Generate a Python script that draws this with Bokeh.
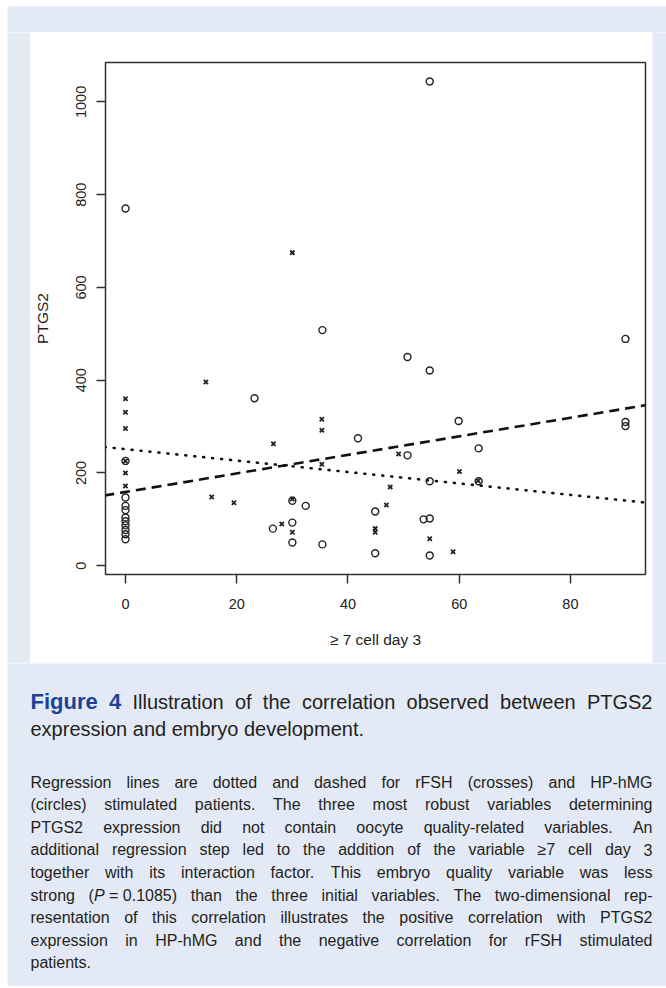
from bokeh.plotting import figure
from bokeh.layouts import column, row
from bokeh.models import Range1d, FixedTicker, Slope, ColumnDataSource
from bokeh.core.properties import value, field
from bokeh.embed import file_html
from bokeh.resources import INLINE

# ---------------- data ----------------
# HP-hMG stimulated patients (circles)
hmg_x = [0, 0, 0, 0, 0, 0, 0, 0, 0, 0, 0,
         23.2, 26.5, 30, 30, 30, 32.4, 35.4, 35.4, 41.8, 44.9, 44.9,
         50.7, 50.7, 53.6, 54.7, 54.7, 54.7, 54.7, 54.7, 59.9, 63.5, 63.5,
         89.9, 89.9, 89.9]
hmg_y = [770, 226, 147, 129, 120, 104, 96, 87, 77, 68, 57,
         361, 80, 140, 93, 50, 129, 508, 46, 275, 117, 27,
         450, 238, 100, 1044, 421, 182, 102, 22, 312, 253, 182,
         489, 310, 301]
# rFSH stimulated patients (crosses)
fsh_x = [0, 0, 0, 0, 0, 0, 14.45, 15.5, 19.5, 26.6, 28.1, 30, 30, 30,
         35.3, 35.3, 35.3, 44.9, 44.9, 46.9, 47.6, 49.1, 54.7, 58.9, 60.05, 63.4]
fsh_y = [360, 331, 296, 226, 200, 172, 396, 148, 136, 263, 90, 675, 144, 72,
         316, 292, 219, 80, 72, 131, 170, 241, 58, 30, 203, 183]
# regression lines (intercept, slope)
fsh_line = (251.3, -1.232)   # dotted
hmg_line = (159.0, 2.0)      # dashed

x_ticks = [0, 20, 40, 60, 80]
y_ticks = [0, 200, 400, 600, 800, 1000]
x_title = "\u2265 7 cell day 3"
y_title = "PTGS2"

caption_label = "Figure 4"
caption_title = ["Illustration of the correlation observed between PTGS2",
                 "expression and embryo development."]
caption_body = [
    "Regression lines are dotted and dashed for rFSH (crosses) and HP-hMG",
    "(circles) stimulated patients. The three most robust variables determining",
    "PTGS2 expression did not contain oocyte quality-related variables. An",
    "additional regression step led to the addition of the variable \u22657 cell day 3",
    "together with its interaction factor. This embryo quality variable was less",
    "strong (P\u00a0=\u00a00.1085) than the three initial variables. The two-dimensional rep-",
    "resentation of this correlation illustrates the positive correlation with PTGS2",
    "expression in HP-hMG and the negative correlation for rFSH stimulated",
    "patients.",
]

# ---------------- styles ----------------
BLUE = "#e3eaf6"
INK = "#222222"
FIG_BLUE = "#1d4396"
TXT = "#231f20"
FONT = "Liberation Sans"

PAGE_W = 666
TOP_H = 32
CHART_W, CHART_H = 622, 631
LEFT_W, RIGHT_W = 30, 14
CAP_H = 323
EDGE_L, EDGE_T = 7, 6


def panel(w, h, left=0, top=0):
    f = figure(width=w, height=h, x_axis_type=None, y_axis_type=None,
               toolbar_location=None, output_backend="svg",
               min_border_left=left, min_border_top=top,
               min_border_right=0, min_border_bottom=0,
               border_fill_color="white", background_fill_color=BLUE,
               outline_line_color=None, frame_align=False)
    return f


# ---------------- chart ----------------
all_x = hmg_x + fsh_x
all_y = hmg_y + fsh_y
dx = (max(all_x) - min(all_x)) * 0.04
dy = (max(all_y) - min(all_y)) * 0.04

p = figure(width=CHART_W, height=CHART_H,
           x_range=Range1d(min(all_x) - dx, max(all_x) + dx),
           y_range=Range1d(min(all_y) - dy, max(all_y) + dy),
           output_backend="svg", toolbar_location=None,
           min_border_left=75, min_border_right=7,
           min_border_top=30, min_border_bottom=89,
           background_fill_color="white", border_fill_color="white",
           outline_line_color="#333333", outline_line_width=1.5,
           frame_align=False)
p.grid.visible = False

p.xaxis.ticker = FixedTicker(ticks=x_ticks)
p.yaxis.ticker = FixedTicker(ticks=y_ticks)
p.xaxis.axis_label = x_title
p.yaxis.axis_label = y_title
for ax in (p.xaxis, p.yaxis):
    ax.axis_line_color = None
    ax.minor_tick_line_color = None
    ax.major_tick_in = 0
    ax.major_tick_out = 9
    ax.major_tick_line_width = 1.5
    ax.major_tick_line_color = "#333333"
    ax.major_label_text_font = FONT
    ax.major_label_text_font_size = "14.5px"
    ax.major_label_text_color = INK
    ax.axis_label_text_font = FONT
    ax.axis_label_text_font_size = "15.5px"
    ax.axis_label_text_font_style = "normal"
    ax.axis_label_text_color = INK
p.yaxis.major_label_orientation = "vertical"
p.yaxis.major_label_standoff = 10
p.yaxis.axis_label_standoff = 23
p.xaxis.major_label_standoff = 15
p.xaxis.axis_label_standoff = 19

p.add_layout(Slope(gradient=fsh_line[1], y_intercept=fsh_line[0],
                   line_color="#111111", line_width=2.6, line_dash="1 8",
                   line_cap="round"))
p.add_layout(Slope(gradient=hmg_line[1], y_intercept=hmg_line[0],
                   line_color="#111111", line_width=2.6, line_dash="10 6"))

p.scatter(hmg_x, hmg_y, marker="circle", size=7, fill_color=None,
          line_color=INK, line_width=1.4)
p.scatter(fsh_x, fsh_y, marker="x", size=6, line_color=INK, line_width=1.8)

# ---------------- caption ----------------
W = {' ': 278, '\u00a0': 278, '(': 333, ')': 333, '-': 333, '.': 278, ',': 278,
     '=': 584, '\u2265': 549}
for c in "0123456789":
    W[c] = 556
W.update(dict(a=556, b=556, c=500, d=556, e=556, f=278, g=556, h=556, i=222, j=222,
              k=500, l=222, m=833, n=556, o=556, p=556, q=556, r=333, s=500, t=278,
              u=556, v=500, w=722, x=500, y=500, z=500))
W.update(dict(A=667, B=667, C=722, D=722, E=667, F=611, G=778, H=722, I=278, J=500,
              K=667, L=556, M=833, N=722, O=778, P=667, Q=778, R=722, S=667, T=611,
              U=722, V=667, W=944, X=667, Y=667, Z=611))
WB = {'F': 611, 'i': 278, 'g': 611, 'u': 611, 'r': 389, 'e': 556, ' ': 278, '4': 556}

TEXT_X0 = 30
TEXT_W = 622
CAP_Y0 = TOP_H + CHART_H   # page y of caption panel top


def seg_w(text, style, size):
    tbl = WB if style == "bold" else W
    return sum(tbl.get(ch, W.get(ch, 556)) for ch in text) * size / 1000.0


def segments(tok, color):
    if tok.startswith("(P\u00a0"):
        return [("(", "normal", color), ("P", "italic", color), (tok[2:], "normal", color)]
    return [(tok, "normal", color)]


rows = dict(x=[], y=[], text=[], style=[], color=[], size=[])


def place(tokens, y, size, justify):
    widths = [sum(seg_w(t, s, sz) for t, s, c, sz in tok) for tok in tokens]
    gap = 278 * size / 1000.0
    if justify and len(tokens) > 1:
        gap = (TEXT_W - sum(widths)) / (len(tokens) - 1)
    x = float(TEXT_X0)
    for tok, w in zip(tokens, widths):
        xx = x
        for t, s, c, sz in tok:
            rows["x"].append(xx)
            rows["y"].append(y)
            rows["text"].append(t)
            rows["style"].append(s)
            rows["color"].append(c)
            rows["size"].append("%.1fpx" % sz)
            xx += seg_w(t, s, sz)
        x += w + gap


def toks(line, color, size):
    return [[seg + (size,) for seg in segments(w, color)] for w in line.split(" ")]


TS = 20.0
FS = 22.0
BS = 16.0
title_tokens = [[(w, "bold", FIG_BLUE, FS)] for w in caption_label.split(" ")]
title_tokens += toks(caption_title[0], TXT, TS)
place(title_tokens, CAP_Y0 + 38, TS, True)
place(toks(caption_title[1], TXT, TS), CAP_Y0 + 65, TS, False)
for i, line in enumerate(caption_body):
    last = i == len(caption_body) - 1
    place(toks(line, TXT, BS), CAP_Y0 + 118.5 + i * 22.6, BS, not last)

cap = panel(PAGE_W, CAP_H, left=EDGE_L)
cap.x_range = Range1d(EDGE_L, PAGE_W)
cap.y_range = Range1d(CAP_Y0 + CAP_H, CAP_Y0)
cap.text(x="x", y="y", text="text", source=ColumnDataSource(rows),
         text_font=value(FONT), text_font_size=field("size"),
         text_font_style=field("style"), text_color=field("color"),
         text_baseline="alphabetic", text_align="left")

top = panel(PAGE_W, TOP_H, left=EDGE_L, top=EDGE_T)
left = panel(LEFT_W, CHART_H, left=EDGE_L)
right = panel(RIGHT_W, CHART_H)

layout = column(top, row(left, p, right, spacing=0), cap, spacing=0)

open("out.html", "w").write(file_html(layout, INLINE))
